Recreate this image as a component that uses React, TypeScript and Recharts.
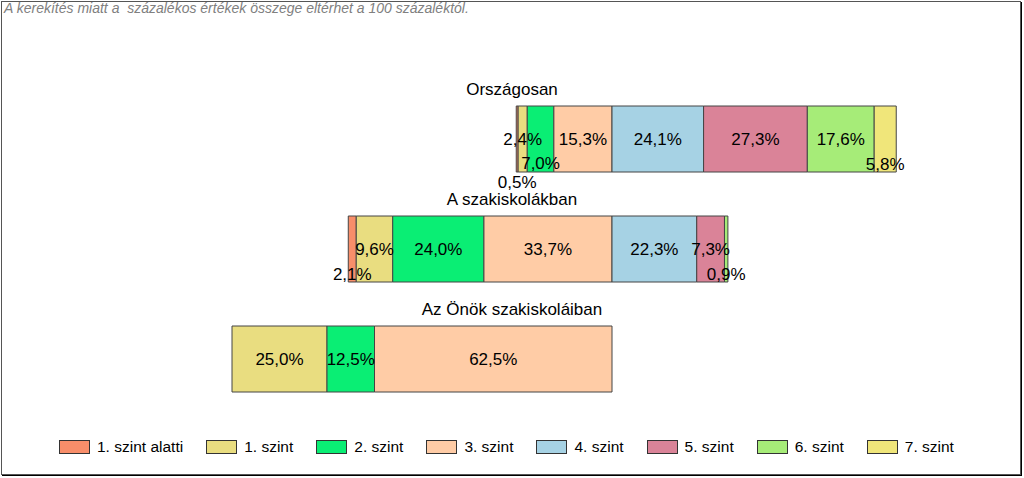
import React from 'react';
import { BarChart, Bar, XAxis, YAxis, LabelList } from 'recharts';

const categories = ['Országosan', 'A szakiskolákban', 'Az Önök szakiskoláiban'];
const levels = ['1. szint alatti', '1. szint', '2. szint', '3. szint', '4. szint', '5. szint', '6. szint', '7. szint'];
const orszagosan = [0.5, 2.4, 7.0, 15.3, 24.1, 27.3, 17.6, 5.8];
const szakiskolak = [2.1, 9.6, 24.0, 33.7, 22.3, 7.3, 0.9, 0];
const onok = [0, 25.0, 12.5, 62.5, 0, 0, 0, 0];
const seriesByCategory = [orszagosan, szakiskolak, onok];
const leftLevelCount = 4; // levels drawn left of the alignment line
const footnote = 'A kerekítés miatt a  százalékos értékek összege eltérhet a 100 százaléktól.';

const colors = ['#F88E6A', '#E9DD80', '#0AEE74', '#FFCCA6', '#A6D2E4', '#DA8398', '#A6EC78', '#F0E67A'];
const strokeColor = '#444';
const FONT = '"Liberation Sans", Arial, sans-serif';

// label vertical shifts for crowded small segments (style config)
const labelDy: Record<string, number> = { '0-0': 43, '0-2': 24, '0-7': 25, '1-0': 25, '1-6': 25 };

const leftSums = seriesByCategory.map((vals) => vals.slice(0, leftLevelCount).reduce((a, b) => a + b, 0));
const maxLeft = Math.max(...leftSums);

const data = categories.map((name, ci) => {
  const row: Record<string, any> = { name, spacer: maxLeft - leftSums[ci] };
  levels.forEach((_, li) => {
    row['l' + li] = seriesByCategory[ci][li];
  });
  return row;
});

const fmt = (v: number) => v.toFixed(1).replace('.', ',') + '%';

const boxOf = (props: any) => {
  const vb = props.viewBox || {};
  return {
    x: vb.x ?? props.x,
    y: vb.y ?? props.y,
    w: vb.width ?? props.width,
    h: vb.height ?? props.height,
  };
};

const makeLabel = (li: number) => (props: any) => {
  const { value, index } = props;
  const { x, y, w, h } = boxOf(props);
  if (!value) return null;
  const dy = labelDy[`${index}-${li}`] || 0;
  return (
    <text
      x={x + w / 2}
      y={y + h / 2 + dy}
      textAnchor="middle"
      dominantBaseline="central"
      fontFamily={FONT}
      fontSize={17}
      fill="#000"
    >
      {fmt(value)}
    </text>
  );
};

const titleLabel = (props: any) => {
  const { index } = props;
  const { y, h } = boxOf(props);
  return (
    <text
      x={512}
      y={y + h / 2 - 50}
      textAnchor="middle"
      dominantBaseline="central"
      fontFamily={FONT}
      fontSize={17}
      fill="#000"
    >
      {categories[index]}
    </text>
  );
};

export default function App() {
  return (
    <div style={{ position: 'relative', width: 1024, height: 478, background: '#fff', overflow: 'hidden' }}>
      <style>{'body{margin:0}'}</style>
      <div
        style={{
          position: 'absolute',
          left: 1,
          top: 1,
          width: 1018,
          height: 472,
          border: '1px solid #555',
          boxShadow: '1px 1px 0 #000',
        }}
      />
      <div
        style={{
          position: 'absolute',
          left: 4,
          top: 0,
          fontFamily: FONT,
          fontStyle: 'italic',
          fontSize: 14,
          color: '#808080',
          whiteSpace: 'pre',
        }}
      >
        {footnote}
      </div>
      <div style={{ position: 'absolute', left: 0, top: 0 }}>
        <BarChart
          width={1024}
          height={478}
          data={data}
          layout="vertical"
          margin={{ top: 84, right: 32, bottom: 64, left: 232 }}
          barCategoryGap="20%"
        >
          <XAxis type="number" domain={[0, 200]} hide />
          <YAxis type="category" dataKey="name" hide />
          <Bar dataKey="spacer" stackId="a" fill="transparent" stroke="none" isAnimationActive={false} />
          {levels.map((lv, li) => (
            <Bar
              key={lv}
              dataKey={'l' + li}
              name={lv}
              stackId="a"
              fill={colors[li]}
              stroke={strokeColor}
              strokeWidth={1}
              isAnimationActive={false}
            >
              <LabelList dataKey={'l' + li} content={makeLabel(li)} />
              {li === leftLevelCount - 1 ? <LabelList dataKey="name" content={titleLabel} /> : null}
            </Bar>
          ))}
        </BarChart>
      </div>
      <div
        style={{
          position: 'absolute',
          left: 59,
          top: 438,
          display: 'flex',
          alignItems: 'center',
          fontFamily: FONT,
          fontSize: 15.5,
          color: '#000',
        }}
      >
        {levels.map((lv, li) => (
          <div key={lv} style={{ display: 'flex', alignItems: 'center', marginRight: 23 }}>
            <div
              style={{
                width: 29,
                height: 12,
                background: colors[li],
                border: '1px solid #333',
                marginRight: 7,
              }}
            />
            <span>{lv}</span>
          </div>
        ))}
      </div>
    </div>
  );
}
